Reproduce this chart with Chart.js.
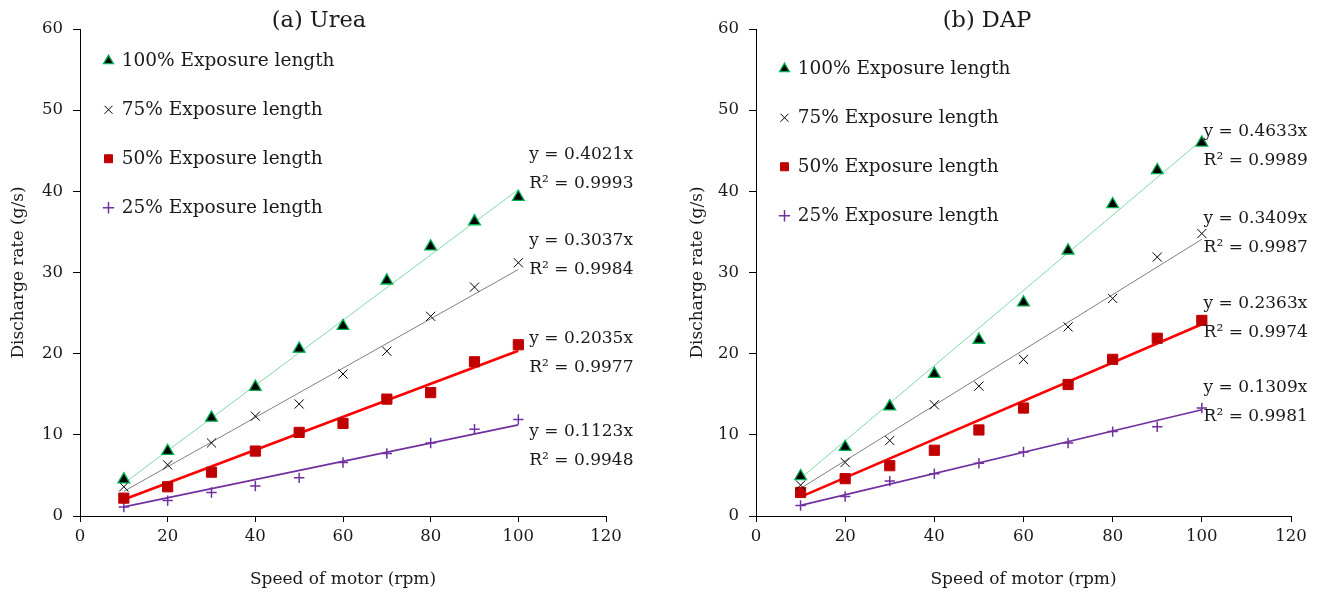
<!DOCTYPE html>
<html>
<head>
<meta charset="utf-8">
<script src="https://cdn.jsdelivr.net/npm/chart.js@4.4.1/dist/chart.umd.min.js"></script>
<style>
  html, body { margin: 0; padding: 0; background: #fff; }
  #wrap { position: relative; width: 1328px; height: 604px; }
  .box { position: absolute; top: 0; height: 604px; }
  #boxA { left: 0; width: 664px; }
  #boxB { left: 664px; width: 664px; }
</style>
</head>
<body>
<div id="wrap">
  <div class="box" id="boxA"><canvas id="chartA"></canvas></div>
  <div class="box" id="boxB"><canvas id="chartB"></canvas></div>
</div>
<script>
// ---- data ----
const speeds = [10, 20, 30, 40, 50, 60, 70, 80, 90, 100];
const seriesNames = ['100% Exposure length', '75% Exposure length', '50% Exposure length', '25% Exposure length'];

const ureaE100 = [4.5, 8.0, 12.1, 15.9, 20.6, 23.4, 29.0, 33.2, 36.3, 39.3];
const ureaE75  = [3.6, 6.3, 9.0, 12.3, 13.8, 17.5, 20.3, 24.6, 28.2, 31.2];
const ureaE50  = [2.2, 3.6, 5.4, 8.0, 10.3, 11.4, 14.4, 15.2, 19.0, 21.1];
const ureaE25  = [1.1, 1.9, 2.9, 3.7, 4.7, 6.6, 7.7, 9.0, 10.7, 11.9];
const ureaSlopes = [0.4021, 0.3037, 0.2035, 0.1123];
const ureaR2 = ['0.9993', '0.9984', '0.9977', '0.9948'];

const dapE100 = [4.9, 8.5, 13.5, 17.5, 21.7, 26.3, 32.7, 38.4, 42.6, 46.0];
const dapE75  = [3.8, 6.6, 9.3, 13.7, 16.0, 19.3, 23.3, 26.8, 31.9, 34.8];
const dapE50  = [2.9, 4.6, 6.2, 8.1, 10.6, 13.3, 16.2, 19.3, 21.9, 24.1];
const dapE25  = [1.3, 2.4, 4.3, 5.2, 6.5, 7.9, 9.0, 10.4, 11.0, 13.3];
const dapSlopes = [0.4633, 0.3409, 0.2363, 0.1309];
const dapR2 = ['0.9989', '0.9987', '0.9974', '0.9981'];

const trendRange = [10, 100];
const xTicks = [0, 20, 40, 60, 80, 100, 120];
const yTicks = [0, 10, 20, 30, 40, 50, 60];

// label anchors for the trend-line equations (data units)
const ureaLabelX = 102.5;
const ureaLabelY = [44.5, 33.9, 21.9, 10.35];
const dapLabelX = 100.4;
const dapLabelY = [47.4, 36.7, 26.2, 15.8];

// ---- styles ----
const FONT = "'DejaVu Serif', 'Liberation Serif', serif";
const styles = [
  { pointStyle: 'triangle', radius: 6.8, bg: '#000000', border: '#00b050', bw: 1.3, line: '#7fd9a6', lw: 1 },
  { pointStyle: 'crossRot', radius: 6.5, bg: '#000000', border: '#000000', bw: 1, line: '#7f7f7f', lw: 1 },
  { pointStyle: 'rect', radius: 7.2, bg: '#c00000', border: '#c00000', bw: 1, line: '#ff0000', lw: 2.6 },
  { pointStyle: 'cross', radius: 5.2, bg: '#7030a0', border: '#7030a0', bw: 1.5, line: '#7030a0', lw: 1.6 }
];

function makeDatasets(seriesList, slopes) {
  const pts = seriesList.map((vals, i) => ({
    label: seriesNames[i],
    data: speeds.map((x, k) => ({ x: x, y: vals[k] })),
    showLine: false,
    pointStyle: styles[i].pointStyle,
    pointRadius: styles[i].radius,
    pointHoverRadius: styles[i].radius,
    backgroundColor: styles[i].bg,
    borderColor: styles[i].border,
    pointBorderWidth: styles[i].bw,
    borderWidth: styles[i].bw,
    isTrend: false
  }));
  const trends = slopes.map((m, i) => ({
    label: 'trend ' + seriesNames[i],
    data: trendRange.map(x => ({ x: x, y: m * x })),
    showLine: true,
    pointRadius: 0,
    borderColor: styles[i].line,
    backgroundColor: styles[i].line,
    borderWidth: styles[i].lw,
    fill: false,
    isTrend: true
  }));
  return pts.concat(trends);
}

const annotPlugin = {
  id: 'annot',
  afterLayout(chart, args, opts) {
    if (chart.legend) {
      chart.legend.left += opts.legendDX;
      chart.legend.top += opts.legendDY;
    }
  },
  afterDatasetsDraw(chart, args, opts) {
    const ctx = chart.ctx;
    const xs = chart.scales.x, ys = chart.scales.y;
    ctx.save();
    ctx.fillStyle = '#1a1a1a';
    ctx.textBaseline = 'middle';
    ctx.font = '17px ' + FONT;
    // title
    ctx.save();
    ctx.font = '22.5px ' + FONT;
    ctx.textAlign = 'center';
    ctx.fillText(opts.title, opts.titleX, opts.titleY);
    ctx.restore();
    ctx.textAlign = 'left';
    opts.slopes.forEach((m, i) => {
      const px = xs.getPixelForValue(opts.labelX);
      const py = ys.getPixelForValue(opts.labelY[i]);
      ctx.fillText('y = ' + m.toFixed(4) + 'x', px, py);
      ctx.fillText('R\u00B2 = ' + opts.r2[i], px, py + 29);
    });
    ctx.restore();
  }
};

function makeChart(id, seriesList, slopes, r2, cfg) {
  return new Chart(document.getElementById(id), {
    type: 'scatter',
    data: { datasets: makeDatasets(seriesList, slopes) },
    plugins: [annotPlugin],
    options: {
      responsive: true,
      maintainAspectRatio: false,
      animation: false,
      events: [],
      layout: { padding: { left: 0, right: cfg.padRight, top: 29, bottom: 0 } },
      plugins: {
        tooltip: { enabled: false },
        title: { display: false },
        legend: {
          display: true,
          position: 'chartArea',
          align: 'start',
          labels: {
            usePointStyle: true,
            boxWidth: 8,
            boxHeight: 8,
            padding: 30.5,
            color: '#1a1a1a',
            font: { family: FONT, size: 18.5 },
            filter: (item, data) => !data.datasets[item.datasetIndex].isTrend
          }
        },
        annot: {
          title: cfg.title, titleX: cfg.titleX, titleY: 21,
          slopes: slopes, r2: r2, labelX: cfg.labelX, labelY: cfg.labelY,
          legendDX: cfg.legendDX, legendDY: cfg.legendDY
        }
      },
      scales: {
        x: {
          type: 'linear',
          min: 0, max: 120,
          afterBuildTicks: s => { s.ticks = xTicks.map(v => ({ value: v })); },
          afterFit: s => { s.height = 88; },
          grid: { display: true, drawOnChartArea: false, drawTicks: true, tickLength: 6, color: '#000', lineWidth: 1 },
          border: { display: true, color: '#000', width: 1 },
          ticks: { color: '#1a1a1a', font: { family: FONT, size: 16.5 }, padding: 5, maxRotation: 0 },
          title: { display: true, text: 'Speed of motor (rpm)', color: '#1a1a1a', font: { family: FONT, size: 17 }, padding: { top: 0, bottom: 14 } }
        },
        y: {
          type: 'linear',
          min: 0, max: 60,
          afterBuildTicks: s => { s.ticks = yTicks.map(v => ({ value: v })); },
          afterFit: s => { s.width = cfg.yWidth; },
          grid: { display: true, drawOnChartArea: false, drawTicks: true, tickLength: 7, color: '#000', lineWidth: 1 },
          border: { display: true, color: '#000', width: 1 },
          ticks: { color: '#1a1a1a', font: { family: FONT, size: 16.5 }, padding: 10 },
          title: { display: true, text: 'Discharge rate (g/s)', color: '#1a1a1a', font: { family: FONT, size: 17 }, padding: { top: cfg.yTitlePad, bottom: 0 } }
        }
      }
    }
  });
}

makeChart('chartA', [ureaE100, ureaE75, ureaE50, ureaE25], ureaSlopes, ureaR2, {
  title: '(a) Urea', titleX: 319, padRight: 58, yWidth: 80, yTitlePad: 8,
  labelX: ureaLabelX, labelY: ureaLabelY, legendDX: -6, legendDY: 21
});
makeChart('chartB', [dapE100, dapE75, dapE50, dapE25], dapSlopes, dapR2, {
  title: '(b) DAP', titleX: 323, padRight: 37, yWidth: 92, yTitlePad: 23,
  labelX: dapLabelX, labelY: dapLabelY, legendDX: -6, legendDY: 29
});
</script>
</body>
</html>
